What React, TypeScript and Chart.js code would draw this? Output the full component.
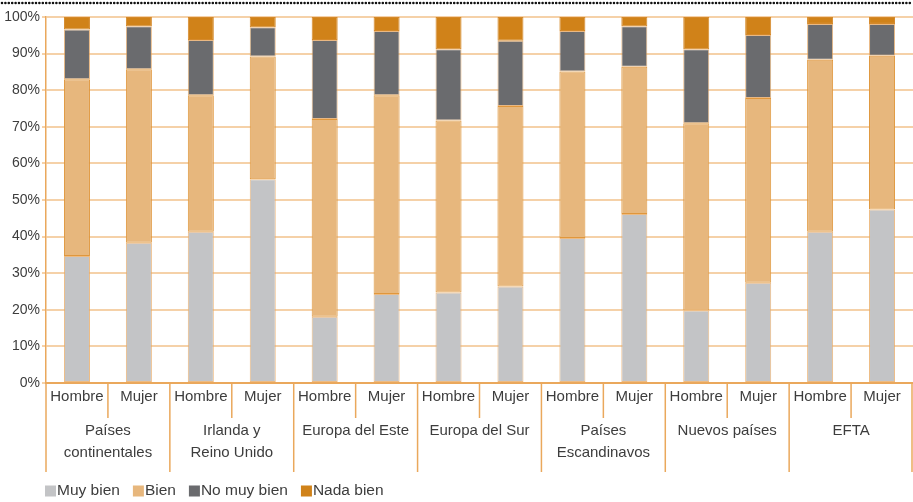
import React, { useEffect, useRef } from "react";
import { Chart, registerables } from "chart.js";

Chart.register(...registerables);

const sexes = ["Hombre", "Mujer"];
const regions: string[][] = [
  ["Países", "continentales"],
  ["Irlanda y", "Reino Unido"],
  ["Europa del Este"],
  ["Europa del Sur"],
  ["Países", "Escandinavos"],
  ["Nuevos países"],
  ["EFTA"],
];
const yTicks = [0, 10, 20, 30, 40, 50, 60, 70, 80, 90, 100];

const seriesNames = ["Muy bien", "Bien", "No muy bien", "Nada bien"];
const muyBien = [34.7, 38.3, 41.3, 55.7, 18.1, 24.3, 24.7, 26.4, 39.6, 46.2, 19.8, 27.4, 41.3, 47.4];
const bien = [48.3, 47.4, 37.3, 33.5, 54.0, 54.3, 47.0, 49.3, 45.5, 40.2, 51.2, 50.5, 47.0, 42.0];
const noMuyBien = [13.6, 11.8, 15.1, 8.0, 21.6, 17.6, 19.5, 17.8, 11.1, 11.1, 20.2, 17.2, 9.8, 8.7];
const nadaBien = [3.4, 2.5, 6.3, 2.8, 6.3, 3.8, 8.8, 6.5, 3.8, 2.5, 8.8, 4.9, 1.9, 1.9];

const colors = ["#c3c4c6", "#e7b77d", "#6a6b6e", "#d08219"];
const borders = ["rgba(232,170,100,0.8)", "#e0973c", "rgba(226,160,90,0.75)", "#d5892a"];

const FONT = "'Liberation Sans', Arial, sans-serif";
const TEXT = "#3d3d3d";
const ORANGE = "#eaa85c";

const categoryLabels = regions.flatMap(() => sexes);

const decorPlugin = {
  id: "decor",
  beforeDraw(chart: any) {
    const ctx = chart.ctx;
    ctx.save();
    ctx.strokeStyle = "#111";
    ctx.lineWidth = 2.6;
    ctx.lineCap = "round";
    ctx.setLineDash([0, 3.4]);
    ctx.beginPath();
    ctx.moveTo(2, 3);
    ctx.lineTo(chart.width, 3);
    ctx.stroke();
    ctx.restore();
  },
  afterDraw(chart: any) {
    const ctx = chart.ctx;
    const x = chart.scales.x;
    const bottom = chart.chartArea.bottom;
    const n = categoryLabels.length;
    const slot = (x.right - x.left) / n;
    ctx.save();
    ctx.strokeStyle = ORANGE;
    ctx.lineWidth = 1.5;
    for (let i = 0; i <= n; i++) {
      let px = x.getPixelForValue(i) - slot / 2;
      if (i === n) px = x.getPixelForValue(n - 1) + slot / 2;
      px = Math.min(Math.max(px, 0.75), chart.width - 1);
      const long = i % sexes.length === 0;
      ctx.beginPath();
      ctx.moveTo(px, bottom);
      ctx.lineTo(px, bottom + (long ? 89 : 35));
      ctx.stroke();
    }
    // group labels
    ctx.fillStyle = TEXT;
    ctx.font = `15px ${FONT}`;
    ctx.textAlign = "center";
    ctx.textBaseline = "middle";
    regions.forEach((lines, g) => {
      const first = g * sexes.length;
      const last = first + sexes.length - 1;
      const cx = (x.getPixelForValue(first) + x.getPixelForValue(last)) / 2;
      lines.forEach((line, k) => {
        ctx.fillText(line, cx, bottom + 48 + k * 22);
      });
    });
    // legend
    ctx.textAlign = "left";
    ctx.font = `15.5px ${FONT}`;
    let lx = 45;
    const ly = 491;
    chart.data.datasets.forEach((ds: any) => {
      ctx.fillStyle = ds.backgroundColor;
      ctx.fillRect(lx, ly - 5.5, 11, 11);
      ctx.fillStyle = TEXT;
      const tx = lx + 12;
      ctx.fillText(ds.label, tx, ly);
      lx = tx + ctx.measureText(ds.label).width + 13;
    });
    ctx.restore();
  },
};

export default function App() {
  const ref = useRef<HTMLCanvasElement | null>(null);
  useEffect(() => {
    if (!ref.current) return;
    const values = [muyBien, bien, noMuyBien, nadaBien];
    const chart = new Chart(ref.current, {
      type: "bar",
      data: {
        labels: categoryLabels,
        datasets: seriesNames.map((name, i) => ({
          label: name,
          data: values[i],
          backgroundColor: colors[i],
          borderColor: borders[i],
          borderWidth: 1,
          borderSkipped: false,
          barPercentage: 0.42,
          categoryPercentage: 1,
        })),
      },
      options: {
        animation: false,
        responsive: false,
        maintainAspectRatio: false,
        layout: { padding: { top: 17, right: 0, bottom: 0, left: 0 } },
        plugins: { legend: { display: false }, tooltip: { enabled: false } },
        scales: {
          x: {
            stacked: true,
            grid: { display: false },
            border: { display: true, color: ORANGE, width: 2 },
            ticks: {
              color: TEXT,
              font: { family: FONT, size: 15 },
              padding: -3,
              maxRotation: 0,
              autoSkip: false,
            },
            afterFit(scale: any) {
              scale.height = 119;
            },
          },
          y: {
            stacked: true,
            min: 0,
            max: 100,
            afterBuildTicks(scale: any) {
              scale.ticks = yTicks.map((v) => ({ value: v }));
            },
            grid: {
              color: "rgba(238,178,110,0.6)",
              lineWidth: 2,
              tickLength: 4,
              drawTicks: true,
            },
            border: { display: true, color: ORANGE, width: 1.5 },
            ticks: {
              color: TEXT,
              font: { family: FONT, size: 14 },
              padding: 2,
              callback: (v: any) => `${v}%`,
            },
            afterFit(scale: any) {
              scale.width = 46;
            },
          },
        },
      },
      plugins: [decorPlugin],
    });
    return () => chart.destroy();
  }, []);
  return (
    <div style={{ position: "absolute", left: 0, top: 0, width: 913, height: 502 }}>
      <canvas ref={ref} width={913} height={502} style={{ display: "block" }} />
    </div>
  );
}
